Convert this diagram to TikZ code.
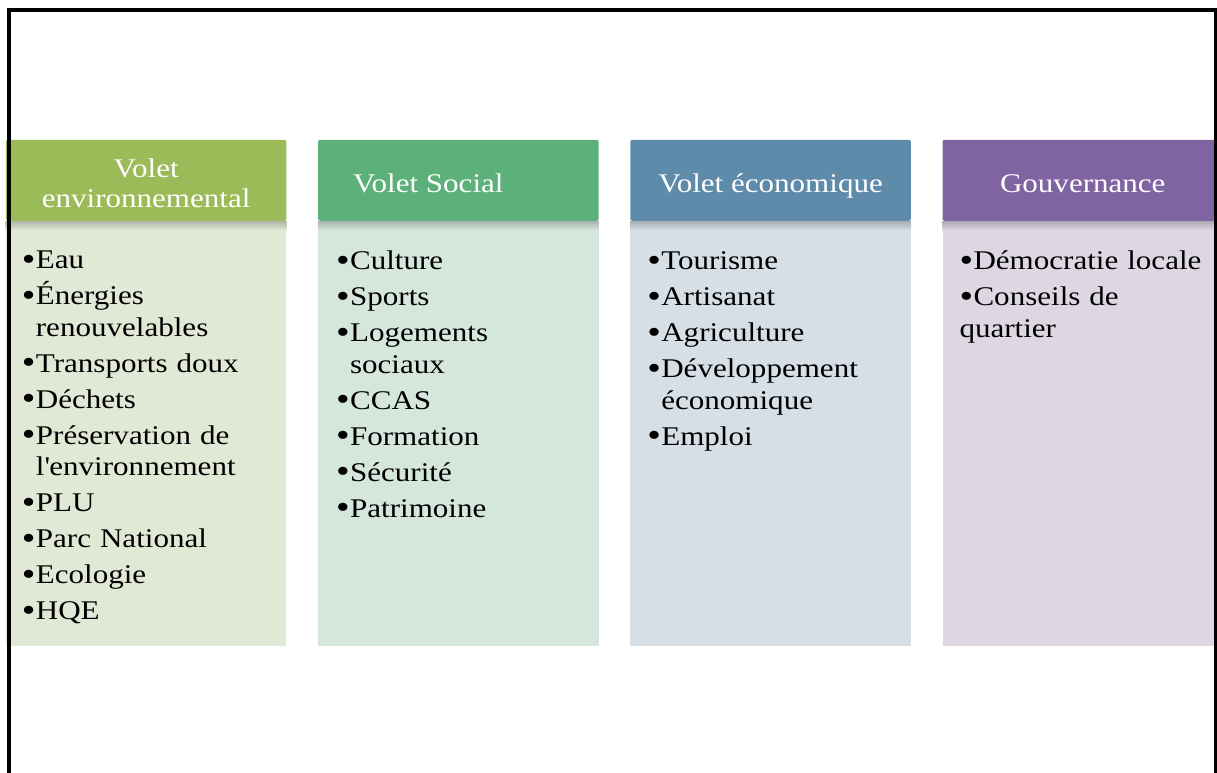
\documentclass[tikz,border=0pt]{standalone}
\usepackage{fontspec}
\setmainfont{Liberation Serif}[FakeStretch=1.15]
\usetikzlibrary{positioning}
\definecolor{envgreen}{RGB}{155,187,89}
\definecolor{envlight}{RGB}{226,232,214}
\definecolor{socgreen}{RGB}{92,177,122}
\definecolor{soclight}{RGB}{213,230,221}
\definecolor{ecoblue}{RGB}{94,139,169}
\definecolor{ecolight}{RGB}{214,222,230}
\definecolor{govpurple}{RGB}{128,100,161}
\definecolor{govlight}{RGB}{221,215,227}
\newcommand\puce[1]{\par\noindent\setlength{\parskip}{4.5pt}\hangindent=14pt\hangafter=1\makebox[14pt][l]{\raisebox{-1.5pt}{\scalebox{1.25}{\textbullet}}}\rule{0pt}{24pt}#1}

\begin{document}
\begin{tikzpicture}[x=1pt, y=-1pt, node distance=31.3pt, every node/.style={font=\fontsize{27}{30}\selectfont},
  bodybox/.style={minimum width=280.5pt, minimum height=424.5pt, inner sep=0pt},
  headbox/.style={rounded corners=2pt, minimum width=280.5pt, minimum height=81pt, inner sep=0pt, text=white, align=center},
  oneline/.style={text height=25pt, text depth=0pt},
  listtext/.style={anchor=north west, inner sep=0pt, text width=262pt, align=left, font=\fontsize{27}{31.5}\selectfont},
  frameline/.style={line width=3.5pt, black}]
\useasboundingbox (0,0) rectangle (1217,772);
\clip (0,0) rectangle (1217,772);
\fill[white] (0,0) rectangle (1217,772);
% corps des colonnes
\node[bodybox, fill=envlight, anchor=north west] (envbody) at (5.7,221) {};
\node[bodybox, fill=soclight, right=of envbody] (socbody) {};
\node[bodybox, fill=ecolight, right=of socbody] (ecobody) {};
\node[bodybox, fill=govlight, right=of ecobody] (govbody) {};
\foreach \c/\l in {env/envlight, soc/soclight, eco/ecolight, gov/govlight}
  \shade[top color=black!22!\l, bottom color=\l] (\c body.north west) rectangle ([yshift=-9pt]\c body.north east);
% titres
\node[headbox, fill=envgreen, above=0pt of envbody] (envhead) {\rule{0pt}{24.5pt}Volet\\environnemental};
\node[headbox, oneline, fill=socgreen, above=0pt of socbody] (sochead) {Volet Social\hspace*{60pt}};
\node[headbox, oneline, fill=ecoblue, above=0pt of ecobody] (ecohead) {Volet économique};
\node[headbox, oneline, fill=govpurple, above=0pt of govbody] (govhead) {Gouvernance};
% listes
\node[listtext] (envlist) at ([xshift=16pt, yshift=-16pt]envbody.north west) {\puce{Eau}\puce{Énergies\newline renouvelables}\puce{Transports doux}\puce{Déchets}\puce{Préservation de\newline l\textquotesingle environnement}\puce{PLU}\puce{Parc National}\puce{Ecologie}\puce{HQE}};
\node[listtext] (soclist) at ([xshift=18pt, yshift=-17pt]socbody.north west) {\puce{Culture}\puce{Sports}\puce{Logements\newline sociaux}\puce{CCAS}\puce{Formation}\puce{Sécurité}\puce{Patrimoine}};
\node[listtext] (ecolist) at ([xshift=17pt, yshift=-17pt]ecobody.north west) {\puce{Tourisme}\puce{Artisanat}\puce{Agriculture}\puce{Développement\newline économique}\puce{Emploi}};
\node[listtext] (govlist) at ([xshift=17pt, yshift=-17pt]govbody.north west) {\puce{Démocratie locale}\puce{Conseils de\newline quartier}};
% cadre
\coordinate (frameSW) at (9,790);
\coordinate (frameNW) at (9,10);
\coordinate (frameNE) at (1215.5,10);
\coordinate (frameSE) at (1215.5,790);
\draw[frameline] (frameSW) -- (frameNW) -- (frameNE) -- (frameSE);
\end{tikzpicture}
\end{document}
